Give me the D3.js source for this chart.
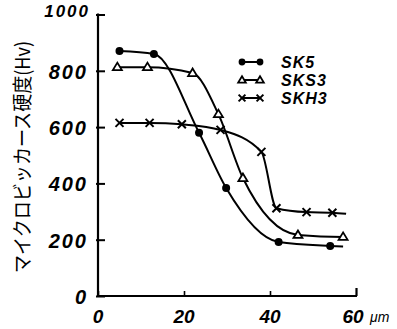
<!DOCTYPE html>
<html><head><meta charset="utf-8">
<script src="https://d3js.org/d3.v7.min.js"></script>
<style>body{margin:0;background:#fff}svg{display:block}</style>
</head><body>
<script>
// ---- data ----
const seriesNames = ["SK5", "SKS3", "SKH3"];
const sk5X = [5, 13, 23.5, 29.8, 42, 54];
const sk5Y = [870, 860, 580, 384, 192, 178];
const sk5End = [57, 176];
const sks3X = [4.5, 11.5, 22, 28, 33.7, 46.5, 57];
const sks3Y = [813, 813, 792, 646, 419, 217, 210];
const sks3End = [57.5, 210];
const skh3X = [5, 12, 19.5, 28.5, 38, 41.5, 48.5, 54.5];
const skh3Y = [615, 615, 610, 590, 512, 312, 298, 296];
const skh3End = [57.7, 292];
const xTicks = [0, 20, 40, 60];
const yTicks = [0, 200, 400, 600, 800, 1000];
const yLabel = "マイクロビッカース硬度(Hv)";
const xUnit = "μm";

const W = 397, H = 329;
const svg = d3.select("body").append("svg").attr("width", W).attr("height", H);
const x = d3.scaleLinear().domain([0, 60]).range([98, 356]);
const y = d3.scaleLinear().domain([0, 1000]).range([296, 14.5]);

const fontNum = "'Liberation Sans', Arial, sans-serif";

// axes
const yAxis = d3.axisLeft(y).tickValues(yTicks).tickSize(-7).tickFormat("");
const gy = svg.append("g").attr("transform", `translate(${x(0)},0)`).call(yAxis);
gy.select(".domain").attr("stroke", "#000").attr("stroke-width", 2.2).attr("d", `M0,${y(0)}V${y(1000)-1}`);
gy.selectAll(".tick line").attr("stroke", "#000").attr("stroke-width", 2).attr("x1", -2);

const xAxis = d3.axisBottom(x).tickValues(xTicks).tickSize(-5).tickFormat("");
const gx = svg.append("g").attr("transform", `translate(0,${y(0)})`).call(xAxis);
gx.select(".domain").attr("stroke", "#000").attr("stroke-width", 2.2).attr("d", `M${x(0)-1},0H${x(60)+1}`);
gx.selectAll(".tick line").attr("stroke", "#000").attr("stroke-width", 1.6);
gx.selectAll(".tick").filter(d => d === 60).select("line").attr("y2", -8).attr("stroke-width", 2.2);

// tick labels
svg.append("g").selectAll("text").data(yTicks).join("text")
  .attr("x", d => d === 1000 ? 90 : 88)
  .attr("y", d => y(d) + (d === 1000 ? 2 : 8))
  .attr("text-anchor", "end")
  .attr("font-family", fontNum).attr("font-style", "italic").attr("font-weight", "bold")
  .attr("font-size", d => d === 1000 ? 17 : 20).attr("letter-spacing", 2)
  .text(d => d);

svg.append("g").selectAll("text").data(xTicks).join("text")
  .attr("x", d => x(d) + (d === 60 ? -3 : 0))
  .attr("y", 323)
  .attr("text-anchor", "middle")
  .attr("font-family", fontNum).attr("font-style", "italic").attr("font-weight", "bold")
  .attr("font-size", 19)
  .text(d => d);
svg.append("text").attr("x", 370).attr("y", 322)
  .attr("font-family", fontNum).attr("font-style", "italic").attr("font-size", 14)
  .text(xUnit);

// y label
svg.append("text")
  .attr("transform", `translate(30,${157}) rotate(-90)`)
  .attr("text-anchor", "middle")
  .attr("font-family", "'Noto Sans CJK JP', sans-serif").attr("font-size", 20)
  .attr("textLength", 232).attr("lengthAdjust", "spacingAndGlyphs")
  .text(yLabel);

// curves
const line = d3.line().x(d => x(d[0])).y(d => y(d[1])).curve(d3.curveMonotoneX);
function pts(xs, ys) { return xs.map((v, i) => [v, ys[i]]); }
const series = [
  { name: seriesNames[0], p: pts(sk5X, sk5Y), end: sk5End, m: "dot" },
  { name: seriesNames[1], p: pts(sks3X, sks3Y), end: sks3End, m: "tri" },
  { name: seriesNames[2], p: pts(skh3X, skh3Y), end: skh3End, m: "x" }
];
series.forEach(s => {
  svg.append("path").attr("d", line(s.p.concat([s.end])))
    .attr("fill", "none").attr("stroke", "#000").attr("stroke-width", 2);
});

function marker(g, type, cx, cy, k) {
  k = k || 1;
  if (type === "dot") {
    g.append("circle").attr("cx", cx).attr("cy", cy).attr("r", 4 * k).attr("fill", "#000");
  } else if (type === "tri") {
    g.append("path").attr("d", `M${cx},${cy-4.5*k}L${cx+4.5*k},${cy+3*k}L${cx-4.5*k},${cy+3*k}Z`)
      .attr("fill", "#fff").attr("stroke", "#000").attr("stroke-width", 1.8);
  } else {
    g.append("path").attr("d", `M${cx-4*k},${cy-4*k}L${cx+4*k},${cy+4*k}M${cx+4*k},${cy-4*k}L${cx-4*k},${cy+4*k}`)
      .attr("stroke", "#000").attr("stroke-width", 2);
  }
}
const gm = svg.append("g");
series.forEach(s => s.p.forEach(d => marker(gm, s.m, x(d[0]), y(d[1]))));

// legend
const lg = svg.append("g");
series.forEach((s, i) => {
  const ly = 62 + i * 18;
  lg.append("line").attr("x1", 242).attr("x2", 260).attr("y1", ly).attr("y2", ly)
    .attr("stroke", "#000").attr("stroke-width", 2);
  marker(lg, s.m, 242, ly, 0.85);
  marker(lg, s.m, 260, ly, 0.85);
  lg.append("text").attr("x", 281).attr("y", ly + 6)
    .attr("font-family", fontNum).attr("font-style", "italic").attr("font-weight", "bold")
    .attr("font-size", 16).attr("letter-spacing", 1)
    .text(s.name);
});
</script>
</body></html>
